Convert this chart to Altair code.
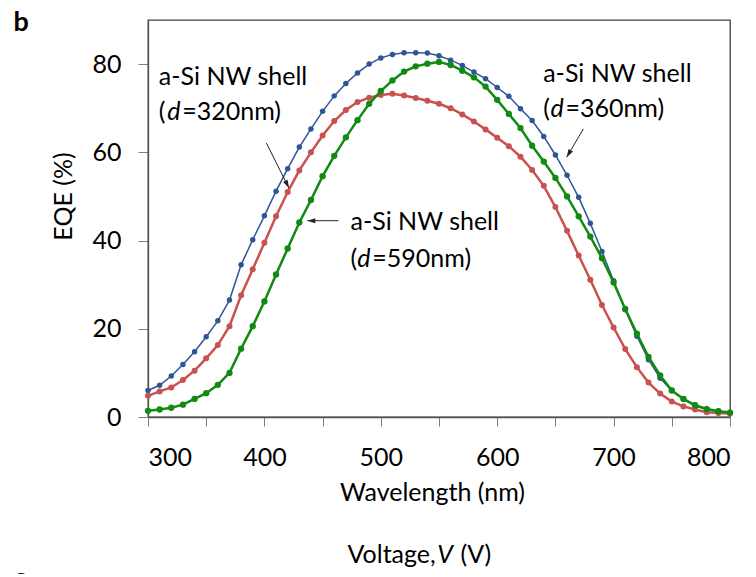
import math
import altair as alt
import pandas as pd

# ---------------- data ----------------
wavelength = list(range(300, 801, 10))

eqe_360 = [6.0, 7.2, 9.3, 11.9, 14.8, 18.2, 21.8, 26.5, 34.5, 40.2,
           45.6, 51.2, 56.3, 61.2, 65.3, 69.3, 72.8, 75.6, 78.0, 80.0,
           81.4, 82.2, 82.6, 82.6, 82.5, 81.9, 80.9, 79.7, 78.2, 76.7,
           74.7, 72.7, 69.9, 67.2, 63.6, 59.4, 54.8, 49.8, 43.9, 37.5,
           30.9, 24.3, 18.3, 13.0, 8.8, 6.0, 4.1, 2.8, 1.8, 1.3,
           1.0]

eqe_320 = [4.8, 5.8, 6.7, 8.4, 10.5, 13.3, 16.3, 20.6, 27.6, 33.5,
           39.5, 45.5, 51.0, 55.9, 60.0, 63.8, 67.1, 69.6, 71.4, 72.4,
           73.0, 73.3, 72.9, 72.3, 71.7, 71.0, 70.0, 68.6, 67.0, 65.2,
           63.3, 61.4, 59.0, 56.0, 52.4, 47.6, 42.2, 36.6, 31.1, 25.4,
           20.3, 15.4, 11.3, 7.8, 5.3, 3.5, 2.4, 1.7, 1.1, 0.9,
           0.8]

eqe_590 = [1.4, 1.7, 2.1, 2.8, 4.1, 5.4, 7.3, 10.0, 15.5, 20.6,
           26.2, 32.3, 38.2, 44.1, 49.2, 54.6, 59.2, 63.4, 67.3, 71.0,
           73.9, 76.3, 78.3, 79.5, 80.1, 80.5, 79.8, 78.5, 77.0, 74.9,
           71.9, 68.7, 65.5, 61.5, 57.9, 54.2, 50.0, 45.5, 40.9, 36.0,
           30.5, 24.5, 18.9, 13.6, 9.4, 6.0, 4.1, 2.6, 1.8, 1.3,
           1.0]

x_ticks = list(range(300, 801, 50))
y_ticks = [0, 20, 40, 60, 80]

# annotation texts (upright)
label_texts = ["a-Si NW shell", "(", "=320nm)",
               "a-Si NW shell", "(", "=360nm)",
               "a-Si NW shell", "(", "=590nm)",
               "Voltage,", "(V)"]
label_x = [309.3, 309.3, 329.4, 639.5, 639.5, 658.6, 474.0, 474.0, 492.7, 471.4, 568.5]
label_y = [75.3, 67.4, 67.4, 76.0, 68.1, 68.1, 42.3, 34.1, 34.1, -33.0, -33.0]

# italic pieces
italic_texts = ["d", "d", "d", "V"]
italic_x = [316.5, 645.8, 479.8, 548.5]
italic_y = [67.4, 68.1, 34.1, -33.0]

# panel letters
panel_texts = ["b", "c"]
panel_x = [184.4, 184.4]
panel_y = [87.4, -38.5]

# arrows (start -> tip)
arrow_x = [401.7, 674.0, 463.6]
arrow_y = [62.1, 65.3, 44.5]
arrow_x2 = [421.1, 659.7, 436.9]
arrow_y2 = [51.9, 58.9, 44.5]

# ---------------- layout ----------------
W, H = 582, 397
X_DOM = [300, 800]
Y_DOM = [0, 90]
FONT = "Lato"

series = (
    [("360", w, v) for w, v in zip(wavelength, eqe_360)]
    + [("320", w, v) for w, v in zip(wavelength, eqe_320)]
    + [("590", w, v) for w, v in zip(wavelength, eqe_590)]
)
df = pd.DataFrame(series, columns=["d", "wl", "eqe"])

xs = alt.Scale(domain=X_DOM, nice=False, zero=False)
ys = alt.Scale(domain=Y_DOM, nice=False, zero=False)

x_axis = alt.Axis(
    values=x_ticks,
    labelExpr="datum.value % 100 == 0 ? datum.label : ''",
    labelOverlap=False,
    tickSize=9, tickColor="#808080", tickWidth=1,
    domainColor="#505050", domainWidth=1.3,
    labelFont=FONT, labelFontSize=25, labelColor="black", labelPadding=19,
    title="Wavelength (nm)", titleFont=FONT, titleFontSize=25,
    titleFontWeight="normal", titleColor="black",
    titleX=284, titleY=83, titleAlign="center", titleBaseline="alphabetic",
    grid=False,
)
y_axis = alt.Axis(
    values=y_ticks,
    tickSize=10, tickColor="#808080", tickWidth=1,
    domainColor="#505050", domainWidth=1.3,
    labelFont=FONT, labelFontSize=25, labelColor="black", labelPadding=17,
    title="EQE (%)", titleFont=FONT, titleFontSize=25,
    titleFontWeight="normal", titleColor="black",
    titleX=-85, titleY=176, titleAngle=270, titleAlign="center",
    titleBaseline="middle",
    grid=False,
)


def X(field):
    return alt.X(field, scale=xs, axis=x_axis, title="Wavelength (nm)")


def Y(field):
    return alt.Y(field, scale=ys, axis=y_axis, title="EQE (%)")


styles = {
    "360": ("#2F5597", 1.5, 30),
    "320": ("#C9514F", 2.5, 36),
    "590": ("#118A11", 2.5, 40),
}

layers = []
for key in ["360", "320", "590"]:
    color, sw, sz = styles[key]
    base = alt.Chart(df).transform_filter(alt.datum.d == key)
    layers.append(base.mark_line(color=color, strokeWidth=sw).encode(x=X("wl:Q"), y=Y("eqe:Q")))
    layers.append(base.mark_point(color=color, filled=True, opacity=1, size=sz, shape="circle")
                  .encode(x=X("wl:Q"), y=Y("eqe:Q")))

# arrows
ppx = W / (X_DOM[1] - X_DOM[0])
ppy = H / (Y_DOM[1] - Y_DOM[0])
angles = []
for x1, y1, x2, y2 in zip(arrow_x, arrow_y, arrow_x2, arrow_y2):
    dxs = (x2 - x1) * ppx
    dup = (y2 - y1) * ppy
    angles.append(math.degrees(math.atan2(dxs, dup)) % 360)
adf = pd.DataFrame({"x": arrow_x, "y": arrow_y, "x2": arrow_x2, "y2": arrow_y2, "ang": angles})

layers.append(alt.Chart(adf).mark_rule(color="#222222", strokeWidth=1).encode(
    x=X("x:Q"), y=Y("y:Q"), x2="x2:Q", y2="y2:Q"))
layers.append(alt.Chart(adf).mark_point(
    shape="M0,0 L-0.45,1.4 L0.45,1.4 Z", filled=True, color="#222222", opacity=1, size=130
).encode(x=X("x2:Q"), y=Y("y2:Q"), angle=alt.Angle("ang:Q", scale=None)))

# texts
ldf = pd.DataFrame({"t": label_texts, "x": label_x, "y": label_y})
idf = pd.DataFrame({"t": italic_texts, "x": italic_x, "y": italic_y})
pdf = pd.DataFrame({"t": panel_texts, "x": panel_x, "y": panel_y})

layers.append(alt.Chart(ldf).mark_text(align="left", baseline="alphabetic", font=FONT,
                                       fontSize=25, color="black").encode(
    x=X("x:Q"), y=Y("y:Q"), text="t:N"))
layers.append(alt.Chart(idf).mark_text(align="left", baseline="alphabetic", font=FONT,
                                       fontSize=25, fontStyle="italic", color="black").encode(
    x=X("x:Q"), y=Y("y:Q"), text="t:N"))
layers.append(alt.Chart(pdf).mark_text(align="left", baseline="alphabetic", font=FONT,
                                       fontSize=27, fontWeight="bold", color="black").encode(
    x=X("x:Q"), y=Y("y:Q"), text="t:N"))

chart = alt.layer(*layers).properties(
    width=W, height=H,
    autosize=alt.AutoSizeParams(type="none"),
    padding={"left": 140, "top": 12, "right": 18, "bottom": 157},
).configure_view(stroke="#404040", strokeWidth=1.3)

chart.save("out.html", embed_options={"renderer": "svg", "actions": False})
